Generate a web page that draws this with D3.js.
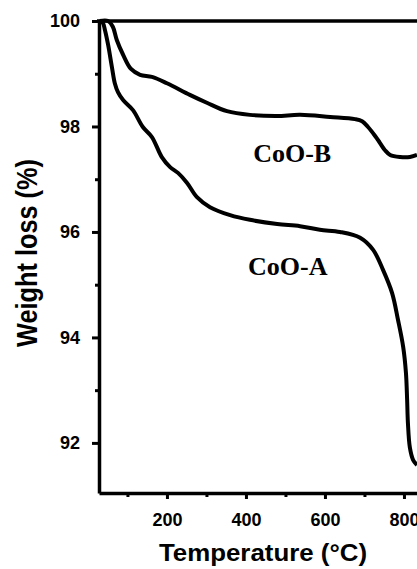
<!DOCTYPE html>
<html>
<head>
<meta charset="utf-8">
<script src="https://cdn.jsdelivr.net/npm/d3@7"></script>
<style>
  body { margin: 0; background: #fff; }
  svg { display: block; }
  .tick text { font-family: "Liberation Sans", Arial, sans-serif; font-weight: bold; font-size: 18px; fill: #000; }
</style>
</head>
<body>
<div id="chart"></div>
<script>
// ---------------- DATA ----------------

// CoO-B (upper curve)
const tempB = [30, 51, 63, 73, 89, 109, 132, 162, 200, 258, 301, 352, 410, 478, 537, 613, 676, 694, 709, 727, 739, 752, 765, 790, 815, 833];
const weightB = [100, 100, 99.89, 99.64, 99.36, 99.09, 98.98, 98.94, 98.82, 98.60, 98.45, 98.29, 98.22, 98.20, 98.22, 98.18, 98.14, 98.10, 97.99, 97.82, 97.69, 97.55, 97.46, 97.42, 97.42, 97.46];

// CoO-A (lower curve)
const tempA = [30, 38, 43, 51, 61, 68, 76, 89, 114, 139, 162, 187, 208, 228, 251, 276, 309, 360, 410, 479, 537, 587, 638, 689, 722, 747, 770, 785, 798, 805, 808, 810, 815, 823, 833];
const weightA = [100, 99.96, 99.83, 99.55, 99.11, 98.82, 98.65, 98.50, 98.31, 97.99, 97.80, 97.42, 97.23, 97.12, 96.93, 96.66, 96.47, 96.32, 96.23, 96.15, 96.11, 96.04, 96.00, 95.89, 95.66, 95.28, 94.84, 94.33, 93.82, 93.33, 92.82, 92.38, 91.91, 91.68, 91.58];

const seriesLabels = [
  { name: "CoO-B", t: 517, w: 97.33 },
  { name: "CoO-A", t: 506, w: 95.18 }
];

const xMajor = [200, 400, 600, 800];
const xMinor = [100, 300, 500, 700];
const yMajor = [92, 94, 96, 98, 100];
const yMinor = [93, 95, 97, 99];

// ---------------- CHART ----------------

const width = 417, height = 569;

const svg = d3.select("#chart")
  .append("svg")
  .attr("width", width)
  .attr("height", height);

const x = d3.scaleLinear().domain([28, 833]).range([99, 417]);
const y = d3.scaleLinear().domain([91.05, 100]).range([493, 21]);

// minor ticks first (no labels)
svg.append("g")
  .attr("transform", `translate(0,${y.range()[0]})`)
  .call(d3.axisBottom(x).tickValues(xMinor).tickSize(4).tickSizeOuter(0).tickFormat(""))
  .call(g => g.select(".domain").remove());

svg.append("g")
  .attr("transform", `translate(${x.range()[0]},0)`)
  .call(d3.axisLeft(y).tickValues(yMinor).tickSize(4).tickSizeOuter(0).tickFormat(""))
  .call(g => g.select(".domain").remove());

svg.selectAll(".tick line").attr("stroke", "#000").attr("stroke-width", 3);

// major axes
const xAxis = svg.append("g")
  .attr("transform", `translate(0,${y.range()[0]})`)
  .call(d3.axisBottom(x).tickValues(xMajor).tickSize(6).tickPadding(14).tickSizeOuter(0));

const yAxis = svg.append("g")
  .attr("transform", `translate(${x.range()[0]},0)`)
  .call(d3.axisLeft(y).tickValues(yMajor).tickSize(7).tickPadding(12).tickSizeOuter(0));

[xAxis, yAxis].forEach(g => {
  g.select(".domain").attr("stroke", "#000").attr("stroke-width", 3.5);
  g.selectAll(".tick line").attr("stroke", "#000").attr("stroke-width", 3);
});

// top frame line
svg.append("line")
  .attr("x1", x.range()[0] - 2)
  .attr("x2", width)
  .attr("y1", y(100))
  .attr("y2", y(100))
  .attr("stroke", "#000")
  .attr("stroke-width", 3.5);

// curves
const line = d3.line()
  .x(d => x(d[0]))
  .y(d => y(d[1]))
  .curve(d3.curveCatmullRom.alpha(0.5));

[[tempB, weightB], [tempA, weightA]].forEach(([t, w]) => {
  svg.append("path")
    .datum(d3.zip(t, w))
    .attr("fill", "none")
    .attr("stroke", "#000")
    .attr("stroke-width", 4)
    .attr("stroke-linejoin", "round")
    .attr("d", line);
});

// series labels
svg.selectAll(".series-label")
  .data(seriesLabels)
  .join("text")
  .attr("class", "series-label")
  .attr("x", d => x(d.t))
  .attr("y", d => y(d.w))
  .attr("text-anchor", "middle")
  .attr("font-family", "'Liberation Serif', 'Times New Roman', serif")
  .attr("font-weight", "bold")
  .attr("font-size", 26)
  .text(d => d.name);

// axis titles
svg.append("text")
  .attr("x", 263)
  .attr("y", 561)
  .attr("text-anchor", "middle")
  .attr("font-family", "'Liberation Sans', Arial, sans-serif")
  .attr("font-weight", "bold")
  .attr("font-size", 24)
  .attr("textLength", 208)
  .attr("lengthAdjust", "spacingAndGlyphs")
  .text("Temperature (°C)");

svg.append("text")
  .attr("transform", "translate(37,253) rotate(-90)")
  .attr("text-anchor", "middle")
  .attr("font-family", "'Liberation Sans', Arial, sans-serif")
  .attr("font-weight", "bold")
  .attr("font-size", 29)
  .attr("textLength", 188)
  .attr("lengthAdjust", "spacingAndGlyphs")
  .text("Weight loss (%)");
</script>
</body>
</html>
